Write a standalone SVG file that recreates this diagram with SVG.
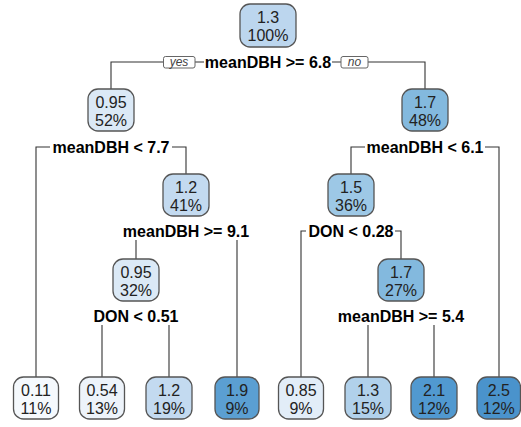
<svg xmlns="http://www.w3.org/2000/svg" width="521" height="427" viewBox="0 0 521 427">
<style>
  .box { stroke: #555; stroke-width: 1.3; }
  .nt { font-family: "Liberation Sans", Arial, sans-serif; font-size: 16px; fill: #222; text-anchor: middle; }
  .sp { font-family: "Liberation Sans", Arial, sans-serif; font-size: 16px; font-weight: bold; fill: #000; text-anchor: middle; }
  .yn { font-family: "Liberation Sans", Arial, sans-serif; font-size: 12px; font-style: italic; fill: #444; text-anchor: middle; }
  .ynb { fill: #fff; stroke: #666; stroke-width: 1; }
  .ln { fill: none; stroke: #333; stroke-width: 1.1; }
</style>
<rect width="521" height="427" fill="#fff"/>
<g id="connectors">
  <path class="ln" d="M111,89 V62 H163 M195,62 H204 M332,62 H341 M368,62 H425 V89"/>
  <path class="ln" d="M36,377 V147 H50 M172,147 H186 V174"/>
  <path class="ln" d="M351,174 V147 H365 M485,147 H499 V377"/>
  <path class="ln" d="M136,240 V259 M237,240 V377"/>
  <path class="ln" d="M301,377 V231 H306 M395,231 H401 V259"/>
  <path class="ln" d="M102,325 V377 M169,325 V377"/>
  <path class="ln" d="M368,325 V377 M434,325 V377"/>
</g>
<g id="yes-label">
  <rect class="ynb" x="163.5" y="56.5" width="31.5" height="11.5" rx="2"/>
  <text class="yn" x="179" y="66">yes</text>
</g>
<g id="no-label">
  <rect class="ynb" x="341" y="56.5" width="27" height="11.5" rx="2"/>
  <text class="yn" x="354.5" y="66">no</text>
</g>
<g id="n1">
  <rect class="box" x="240" y="4" width="56" height="43" rx="10" fill="#bcd6ee"/>
  <text class="nt" x="268" y="22.5">1.3</text>
  <text class="nt" x="268" y="40.5">100%</text>
  <text class="sp" x="268" y="67.5">meanDBH &gt;= 6.8</text>
</g>
<g id="n2">
  <rect class="box" x="88" y="89" width="46" height="42" rx="10" fill="#dbe9f6"/>
  <text class="nt" x="111" y="107.5">0.95</text>
  <text class="nt" x="111" y="125.5">52%</text>
  <text class="sp" x="111" y="152.5">meanDBH &lt; 7.7</text>
</g>
<g id="n3">
  <rect class="box" x="402" y="89" width="46" height="42" rx="10" fill="#83b9de"/>
  <text class="nt" x="425" y="107.5">1.7</text>
  <text class="nt" x="425" y="125.5">48%</text>
  <text class="sp" x="425" y="152.5">meanDBH &lt; 6.1</text>
</g>
<g id="n5">
  <rect class="box" x="163" y="174" width="46" height="42" rx="10" fill="#c3daf0"/>
  <text class="nt" x="186" y="192.5">1.2</text>
  <text class="nt" x="186" y="210.5">41%</text>
  <text class="sp" x="186" y="237">meanDBH &gt;= 9.1</text>
</g>
<g id="n6">
  <rect class="box" x="328" y="174" width="46" height="42" rx="10" fill="#9dc8e6"/>
  <text class="nt" x="351" y="192.5">1.5</text>
  <text class="nt" x="351" y="210.5">36%</text>
  <text class="sp" x="351" y="237">DON &lt; 0.28</text>
</g>
<g id="n10">
  <rect class="box" x="113" y="259" width="46" height="42" rx="10" fill="#dbe9f6"/>
  <text class="nt" x="136" y="277.5">0.95</text>
  <text class="nt" x="136" y="295.5">32%</text>
  <text class="sp" x="136" y="322">DON &lt; 0.51</text>
</g>
<g id="n13">
  <rect class="box" x="378" y="259" width="46" height="42" rx="10" fill="#83b9de"/>
  <text class="nt" x="401" y="277.5">1.7</text>
  <text class="nt" x="401" y="295.5">27%</text>
  <text class="sp" x="401" y="322">meanDBH &gt;= 5.4</text>
</g>
<g id="leaf4">
  <rect class="box" x="13.5" y="377" width="45" height="42" rx="10" fill="#f5f9fd"/>
  <text class="nt" x="36" y="395.5">0.11</text>
  <text class="nt" x="36" y="413.5">11%</text>
</g>
<g id="leaf20">
  <rect class="box" x="79.5" y="377" width="45" height="42" rx="10" fill="#edf3fa"/>
  <text class="nt" x="102" y="395.5">0.54</text>
  <text class="nt" x="102" y="413.5">13%</text>
</g>
<g id="leaf21">
  <rect class="box" x="146" y="377" width="46" height="42" rx="10" fill="#c3daf0"/>
  <text class="nt" x="169" y="395.5">1.2</text>
  <text class="nt" x="169" y="413.5">19%</text>
</g>
<g id="leaf11">
  <rect class="box" x="215" y="377" width="44" height="42" rx="10" fill="#5b9fd2"/>
  <text class="nt" x="237" y="395.5">1.9</text>
  <text class="nt" x="237" y="413.5">9%</text>
</g>
<g id="leaf12">
  <rect class="box" x="278.5" y="377" width="45" height="42" rx="10" fill="#e2edf8"/>
  <text class="nt" x="301" y="395.5">0.85</text>
  <text class="nt" x="301" y="413.5">9%</text>
</g>
<g id="leaf26">
  <rect class="box" x="345" y="377" width="46" height="42" rx="10" fill="#b1d1eb"/>
  <text class="nt" x="368" y="395.5">1.3</text>
  <text class="nt" x="368" y="413.5">15%</text>
</g>
<g id="leaf27">
  <rect class="box" x="411" y="377" width="46" height="42" rx="10" fill="#5199d0"/>
  <text class="nt" x="434" y="395.5">2.1</text>
  <text class="nt" x="434" y="413.5">12%</text>
</g>
<g id="leaf7">
  <rect class="box" x="477" y="377" width="43.5" height="42" rx="10" fill="#4a93cc"/>
  <text class="nt" x="498.75" y="395.5">2.5</text>
  <text class="nt" x="498.75" y="413.5">12%</text>
</g>
</svg>
